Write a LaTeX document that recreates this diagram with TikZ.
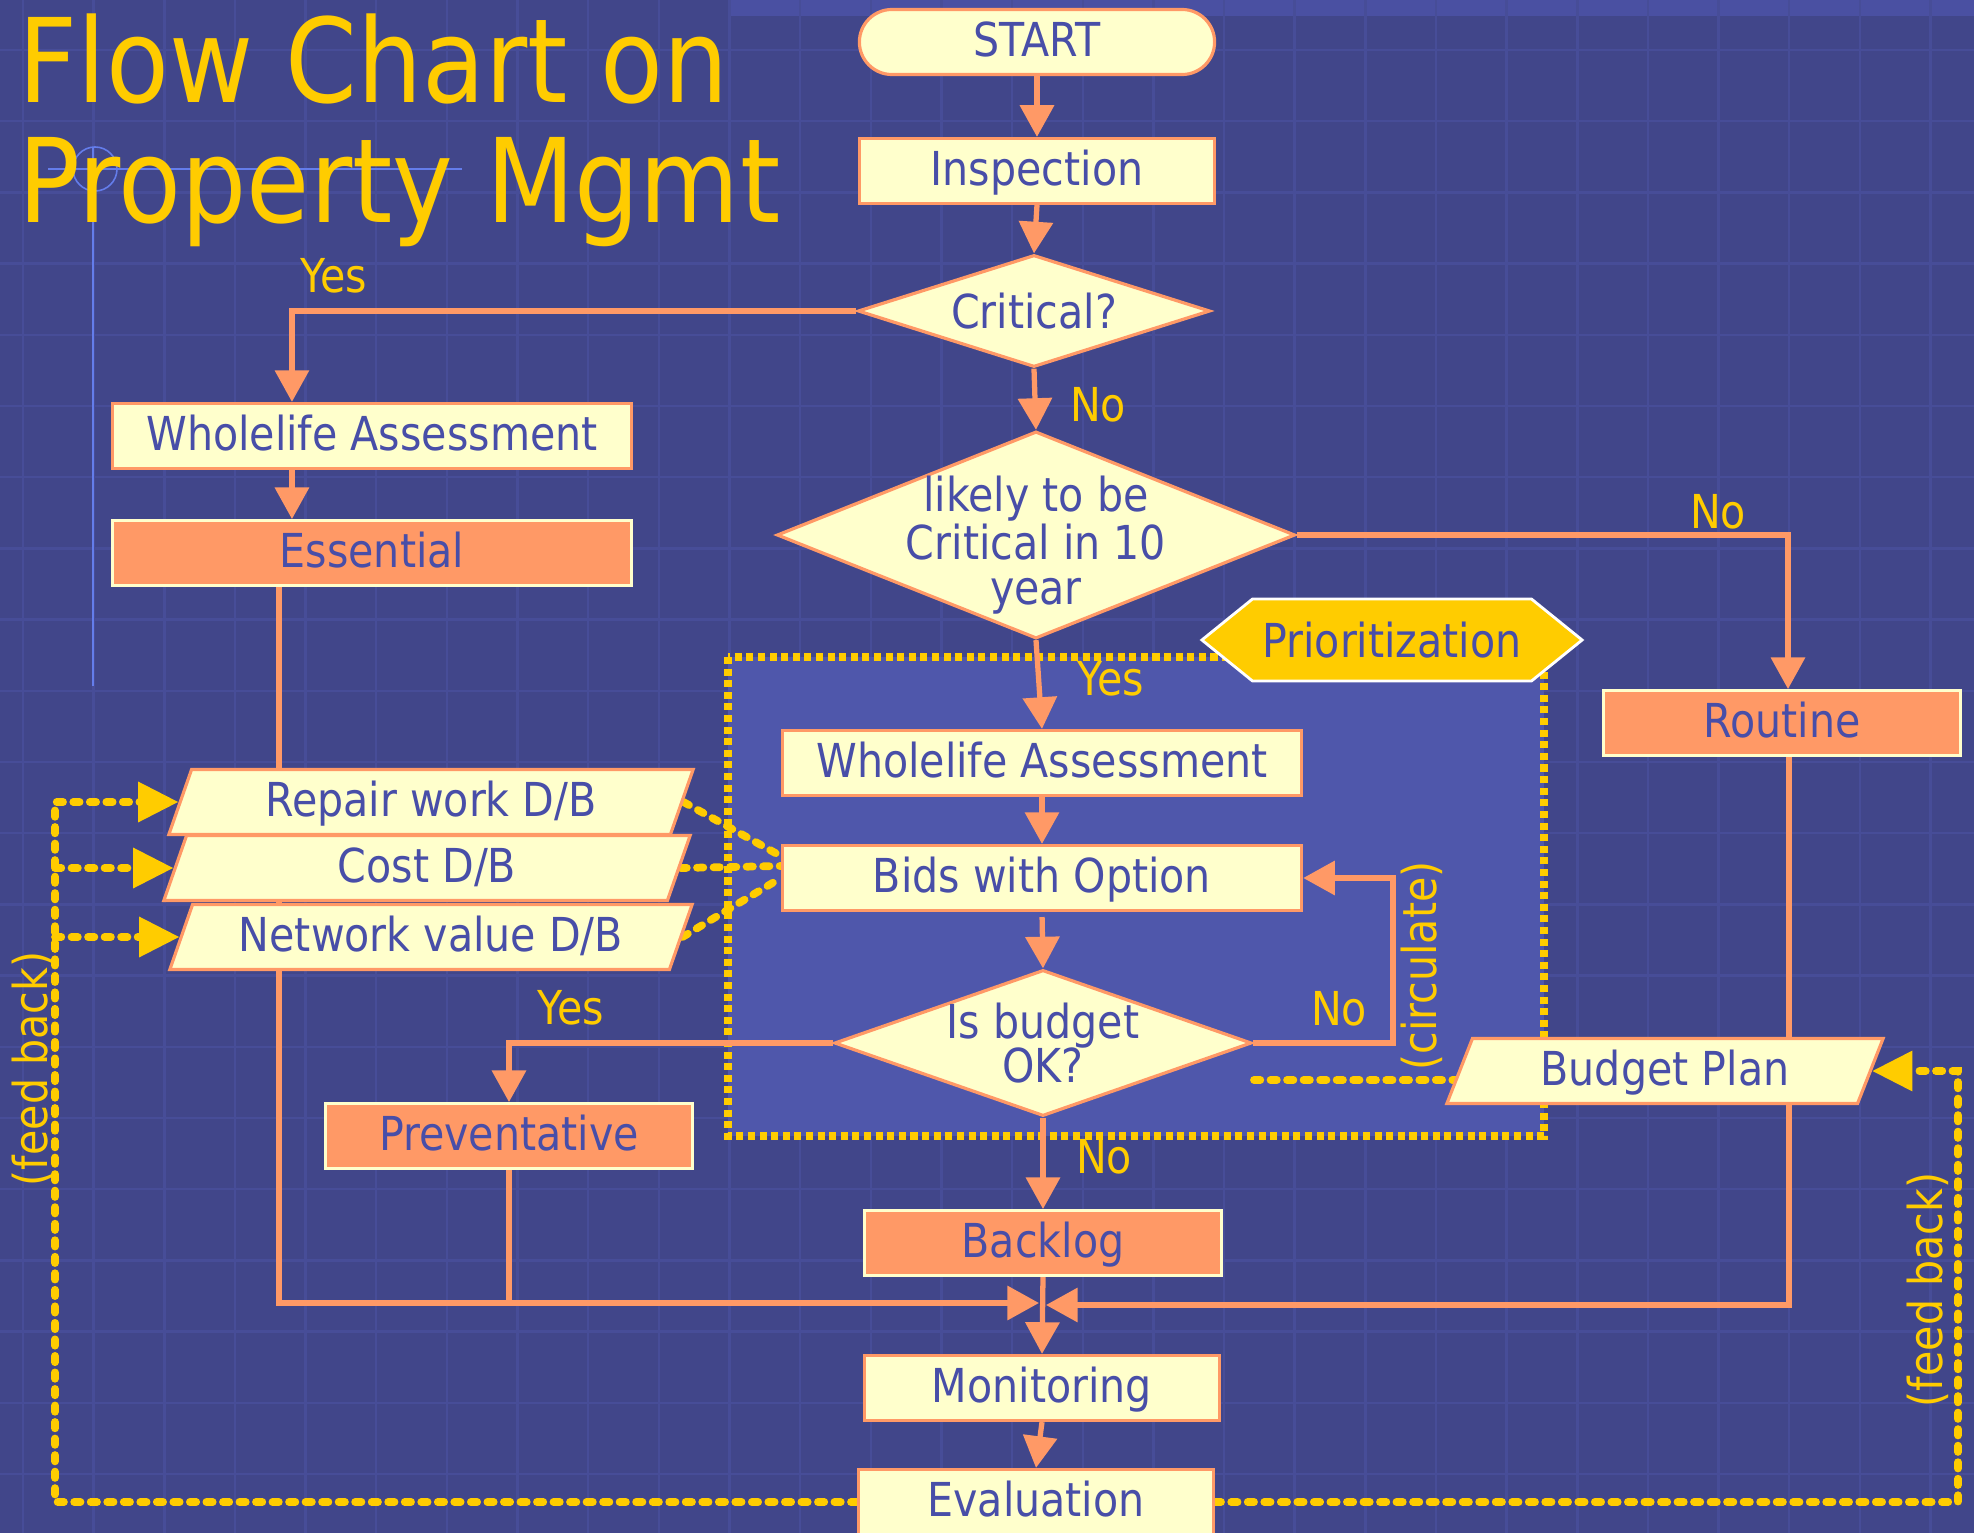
\documentclass[tikz,border=0pt]{standalone}
\usepackage{fontspec}
\setmainfont{DejaVu Sans}[FakeStretch=0.88]
\usetikzlibrary{shapes.geometric,shapes.misc,shapes.symbols,arrows.meta}

\definecolor{slate}{RGB}{65,70,138}
\definecolor{gridline}{RGB}{71,77,152}
\definecolor{band}{RGB}{74,80,162}
\definecolor{panel}{RGB}{79,87,171}
\definecolor{cream}{RGB}{255,255,204}
\definecolor{salmon}{RGB}{255,153,102}
\definecolor{gold}{RGB}{255,204,0}
\definecolor{ink}{RGB}{72,78,168}
\definecolor{rule}{RGB}{100,125,235}

\pgfdeclarelayer{grid}
\pgfdeclarelayer{wires}
\pgfsetlayers{grid,wires,main}

\tikzset{
  txt/.style={font=\fontsize{13.3}{12.7}\selectfont, text=ink},
  stepbox/.style={txt, draw=salmon, line width=0.9pt, fill=cream, inner sep=0pt, minimum height=0.65cm, text height=9.7pt, text depth=1.5pt},
  hotbox/.style={txt, draw=cream, line width=0.8pt, fill=salmon, inner sep=0pt, minimum height=0.65cm, text height=9.7pt, text depth=1.5pt},
  decision/.style={diamond, draw=salmon, line width=0.9pt, fill=cream, inner sep=0pt},
  dbase/.style={trapezium, trapezium left angle=60, trapezium right angle=120, trapezium stretches body=true, txt, draw=salmon, line width=0.9pt, fill=cream, inner sep=0pt, minimum height=0.65cm, text height=9.7pt, text depth=1.5pt},
  flow/.style={draw=salmon, line width=1.5pt, -{Triangle[length=9pt,width=9.5pt]}},
  wire/.style={draw=salmon, line width=1.5pt},
  feed/.style={draw=gold, line width=2.2pt, line cap=round, dash pattern=on 1.8pt off 2.9pt},
  feedarrow/.style={feed, -{Triangle[length=11.5pt,width=11pt]}},
  answer/.style={font=\fontsize{13.3}{12.7}\selectfont, text=gold},
  headline/.style={anchor=base west, inner sep=0pt, font=\fontsize{33.2}{36}\selectfont, text=gold}
}

\begin{document}
\begin{tikzpicture}[x=0.01cm, y=-0.01cm]
\useasboundingbox (0,0) rectangle (1974,1533);

\begin{pgfonlayer}{grid}
	\fill[slate] (0,0) rectangle (1974,1533);
	\fill[band] (730,0) rectangle (1974,16);
	\foreach \i in {0,...,27}
		\draw[gridline, line width=0.7pt] (23+70.65*\i,0) -- (23+70.65*\i,1533);
	\foreach \j in {0,...,20}
		\draw[gridline, line width=0.7pt] (0,50+71.2*\j) -- (1974,50+71.2*\j);
	\draw[rule, line width=0.45pt] (93,147) -- (93,686);
	\draw[rule, line width=0.45pt] (48,169) -- (462,169);
	\draw[rule, line width=0.45pt] (95,169) circle[radius=0.22cm];
	\fill[panel] (728,657) rectangle (1544,1136);
	\draw[gold, line width=2pt, dash pattern=on 2pt off 1.3pt] (728,657) rectangle (1544,1136);
\end{pgfonlayer}

\node[headline] (title1) at (18,103) {Flow Chart on};
\node[headline] (title2) at (18,222) {Property Mgmt};

\node[rounded rectangle, stepbox, minimum width=3.55cm] (start) at (1037,42) {START};
\node[stepbox, minimum width=3.55cm] (insp) at (1037,171) {Inspection};
\node[decision, minimum width=3.52cm, minimum height=1.12cm, label={[txt]center:Critical?}] (crit) at (1034,311) {};
\node[decision, minimum width=5.18cm, minimum height=2.07cm, label={[txt, align=center, yshift=-0.1cm]center:{likely to be\\Critical in 10\\year}}] (likely) at (1036,535) {};
\node[signal, signal to=east and west, signal pointer angle=78, txt, fill=gold, draw=white, line width=0.8pt, inner sep=0pt, minimum width=3.8cm, minimum height=0.82cm] (prio) at (1392,640) {Prioritization};
\node[stepbox, minimum width=5.19cm] (wa2) at (1042,763) {Wholelife Assessment};
\node[stepbox, minimum width=5.19cm] (bids) at (1042,878) {Bids with Option};
\node[decision, minimum width=4.17cm, minimum height=1.46cm, label={[txt, align=center]center:{Is budget\\OK?}}] (budget) at (1043,1043) {};
\node[hotbox, minimum width=3.56cm] (backlog) at (1043,1243) {Backlog};
\node[stepbox, minimum width=3.54cm] (monitor) at (1042,1388) {Monitoring};
\node[stepbox, minimum width=3.54cm] (eval) at (1036,1502) {Evaluation};

\node[stepbox, minimum width=5.18cm] (wa1) at (372,436) {Wholelife Assessment};
\node[hotbox, minimum width=5.18cm] (essential) at (372,553) {Essential};
\node[hotbox, minimum width=3.56cm] (routine) at (1782,723) {Routine};
\node[hotbox, minimum width=3.67cm] (prevent) at (509,1136) {Preventative};

\node[dbase, minimum width=5.24cm] (repair) at (431,802) {Repair work D/B};
\node[dbase, minimum width=5.26cm] (cost) at (427,868) {Cost D/B};
\node[dbase, minimum width=5.22cm] (network) at (431,937) {Network value D/B};
\node[dbase, trapezium left angle=57, trapezium right angle=123, minimum width=4.36cm] (plan) at (1665,1071) {Budget Plan};

\node[answer] (yes1) at (334,276) {Yes};
\node[answer] (no1) at (1098,405) {No};
\node[answer] (no2) at (1718,512) {No};
\node[answer] (yes2) at (1111,679) {Yes};
\node[answer] (yes3) at (571,1008) {Yes};
\node[answer] (no3) at (1339,1009) {No};
\node[answer] (no4) at (1104,1157) {No};
\node[answer, rotate=90] (circ) at (1422,966) {(circulate)};
\node[answer, rotate=90] (fbright) at (1928,1290) {(feed back)};
\node[answer, rotate=90] (fbleft) at (33,1069) {(feed back)};

\coordinate (leftrail) at (55,0);
\coordinate (rightrail) at (1958,0);
\coordinate (loop) at (1393,0);
\coordinate (joinL) at (1039,1303);
\coordinate (joinR) at (1046,1305);
\coordinate (planend) at (1254,1080);

\begin{pgfonlayer}{wires}
	\draw[flow] (start.south) -- (insp.north);
	\draw[flow] (insp.south) -- (crit.north);
	\draw[flow] (crit.south) -- (likely.north);
	\draw[flow] (crit.west) -| ([xshift=-0.8cm]wa1.north);
	\draw[flow] ([xshift=-0.8cm]wa1.south) -- ([xshift=-0.8cm]essential.north);
	\draw[flow] (likely.east) -| ([xshift=0.06cm]routine.north);
	\draw[flow] (likely.south) -- (wa2.north);
	\draw[flow] (wa2.south) -- (bids.north);
	\draw[flow, shorten <=1.4pt] (bids.south) -- (budget.north);
	\draw[flow] (budget.west) -| (prevent.north);
	\draw[flow] (budget.east) -- (budget.east -| loop) -- (bids.east -| loop) -- (bids.east);
	\draw[flow] (budget.south) -- (backlog.north);
	\draw[flow] (backlog.south) -- (monitor.north);
	\draw[flow] (monitor.south) -- (eval.north);
	\draw[flow] ([xshift=-0.93cm]essential.south) |- (joinL);
	\draw[wire] (prevent.south) -- (prevent.south |- joinL);
	\draw[flow] ([xshift=0.07cm]routine.south) |- (joinR);

	\draw[feedarrow] (eval.west) -| (repair.west -| leftrail) -- (repair.west);
	\draw[feedarrow] (cost.west -| leftrail) -- (cost.west);
	\draw[feedarrow] (network.west -| leftrail) -- (network.west);
	\draw[feedarrow] (eval.east) -| (plan.east -| rightrail) -- (plan.east);
	\draw[feed] (planend) -- (planend -| plan.west);
	\draw[feed] (repair.east) -- ([yshift=0.22cm]bids.west);
	\draw[feed] (cost.east) -- ([yshift=0.12cm]bids.west);
	\draw[feed] (network.east) -- (bids.west);
\end{pgfonlayer}

\end{tikzpicture}
\end{document}
